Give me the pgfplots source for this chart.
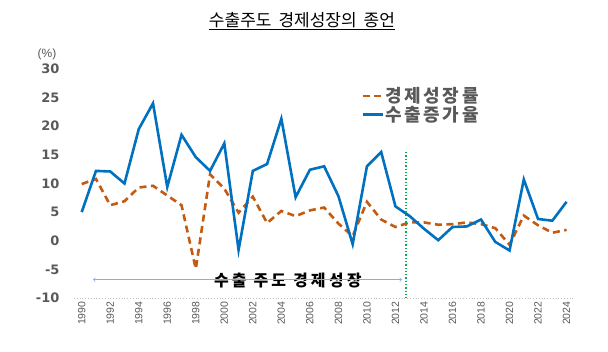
\documentclass[border=0pt]{standalone}
\usepackage{fontspec}
\usepackage{pgfplots}
\pgfplotsset{compat=1.18}
\setmainfont{Liberation Sans}
\newfontfamily\kr{Noto Sans CJK KR}
\newfontfamily\krl[LetterSpace=14]{Noto Sans CJK KR}
\newfontfamily\krm[LetterSpace=20]{Noto Sans CJK KR}
\newfontfamily\dv{DejaVu Sans}
\definecolor{cblue}{HTML}{0070C0}
\definecolor{corange}{HTML}{C55A11}
\definecolor{cgreen}{HTML}{00B050}
\definecolor{cgray}{HTML}{595959}
\definecolor{carrow}{HTML}{8FAADC}
\begin{document}
\begin{tikzpicture}
\useasboundingbox (0,0) rectangle (608pt,352pt);
\node at (302pt,331pt) {\kr\fontsize{17}{17}\selectfont \underline{수출주도\hspace{7pt}경제성장의\hspace{7pt}종언}};
\node at (47pt,298pt) {\fontsize{12}{12}\selectfont\color{cgray}(\%)};
\begin{axis}[
  at={(74pt,54pt)}, anchor=south west, scale only axis,
  width=499pt, height=229pt,
  xmin=1989.46, xmax=2024.45, ymin=-10, ymax=30,
  axis line style={draw=none},
  xtick={1990,1992,...,2024}, ytick={-10,-5,...,30},
  major tick length=0pt,
  /pgf/number format/1000 sep={},
  /pgf/number format/assume math mode=true,
  xticklabel style={rotate=90, anchor=east, font=\fontsize{10.5}{10.5}\selectfont, text=cgray},
  yticklabel style={font=\dv\bfseries\fontsize{13}{13}\selectfont, text=cgray, xshift=-11pt},
  clip=false,
  legend style={at={(0.57,0.935)}, anchor=north west, draw=none, fill=none,
    font=\krl\bfseries\fontsize{18}{18}\selectfont, text=cgray, row sep=-1pt,
    nodes={inner sep=1.5pt}},
  legend cell align=left,
  legend image code/.code={\draw[#1] (0pt,0pt) -- (20pt,0pt);},
]
\draw[gray!50, dotted, line width=0.8pt] (rel axis cs:0,0) -- (rel axis cs:1,0);
\addplot[corange, line width=2.6pt, dash pattern=on 7pt off 4.5pt] coordinates {
(1990,9.9) (1991,10.8) (1992,6.2) (1993,6.9) (1994,9.3) (1995,9.6) (1996,7.9) (1997,6.2)
(1998,-4.9) (1999,11.6) (2000,9.1) (2001,4.9) (2002,7.7) (2003,3.1) (2004,5.2) (2005,4.3)
(2006,5.3) (2007,5.8) (2008,3.0) (2009,0.8) (2010,6.8) (2011,3.7) (2012,2.4) (2013,3.2)
(2014,3.2) (2015,2.8) (2016,2.9) (2017,3.2) (2018,2.9) (2019,2.2) (2020,-0.7) (2021,4.4)
(2022,2.7) (2023,1.4) (2024,1.9)};
\addlegendentry{경제성장률}
\addplot[cblue, line width=2.6pt] coordinates {
(1990,5.0) (1991,12.2) (1992,12.1) (1993,10.0) (1994,19.5) (1995,24.0) (1996,9.4) (1997,18.5)
(1998,14.6) (1999,12.2) (2000,17.0) (2001,-1.6) (2002,12.2) (2003,13.4) (2004,21.3) (2005,7.6)
(2006,12.4) (2007,13.0) (2008,7.8) (2009,-0.6) (2010,13.0) (2011,15.5) (2012,6.0) (2013,4.3)
(2014,2.1) (2015,0.1) (2016,2.4) (2017,2.5) (2018,3.7) (2019,-0.2) (2020,-1.7) (2021,10.7)
(2022,3.8) (2023,3.5) (2024,6.8)};
\addlegendentry{수출증가율}
\draw[cgreen, dotted, line width=1.3pt] (axis cs:2012.74,15.5) -- (axis cs:2012.74,-10);
\node at (axis cs:2004.45,-6.9) {\krm\bfseries\fontsize{16}{16}\selectfont 수출 주도 경제성장};
\draw[carrow, line width=0.7pt, <->, >=to] (axis cs:1990.8,-6.8) -- (axis cs:2012.45,-6.8);
\end{axis}
\end{tikzpicture}
\end{document}
